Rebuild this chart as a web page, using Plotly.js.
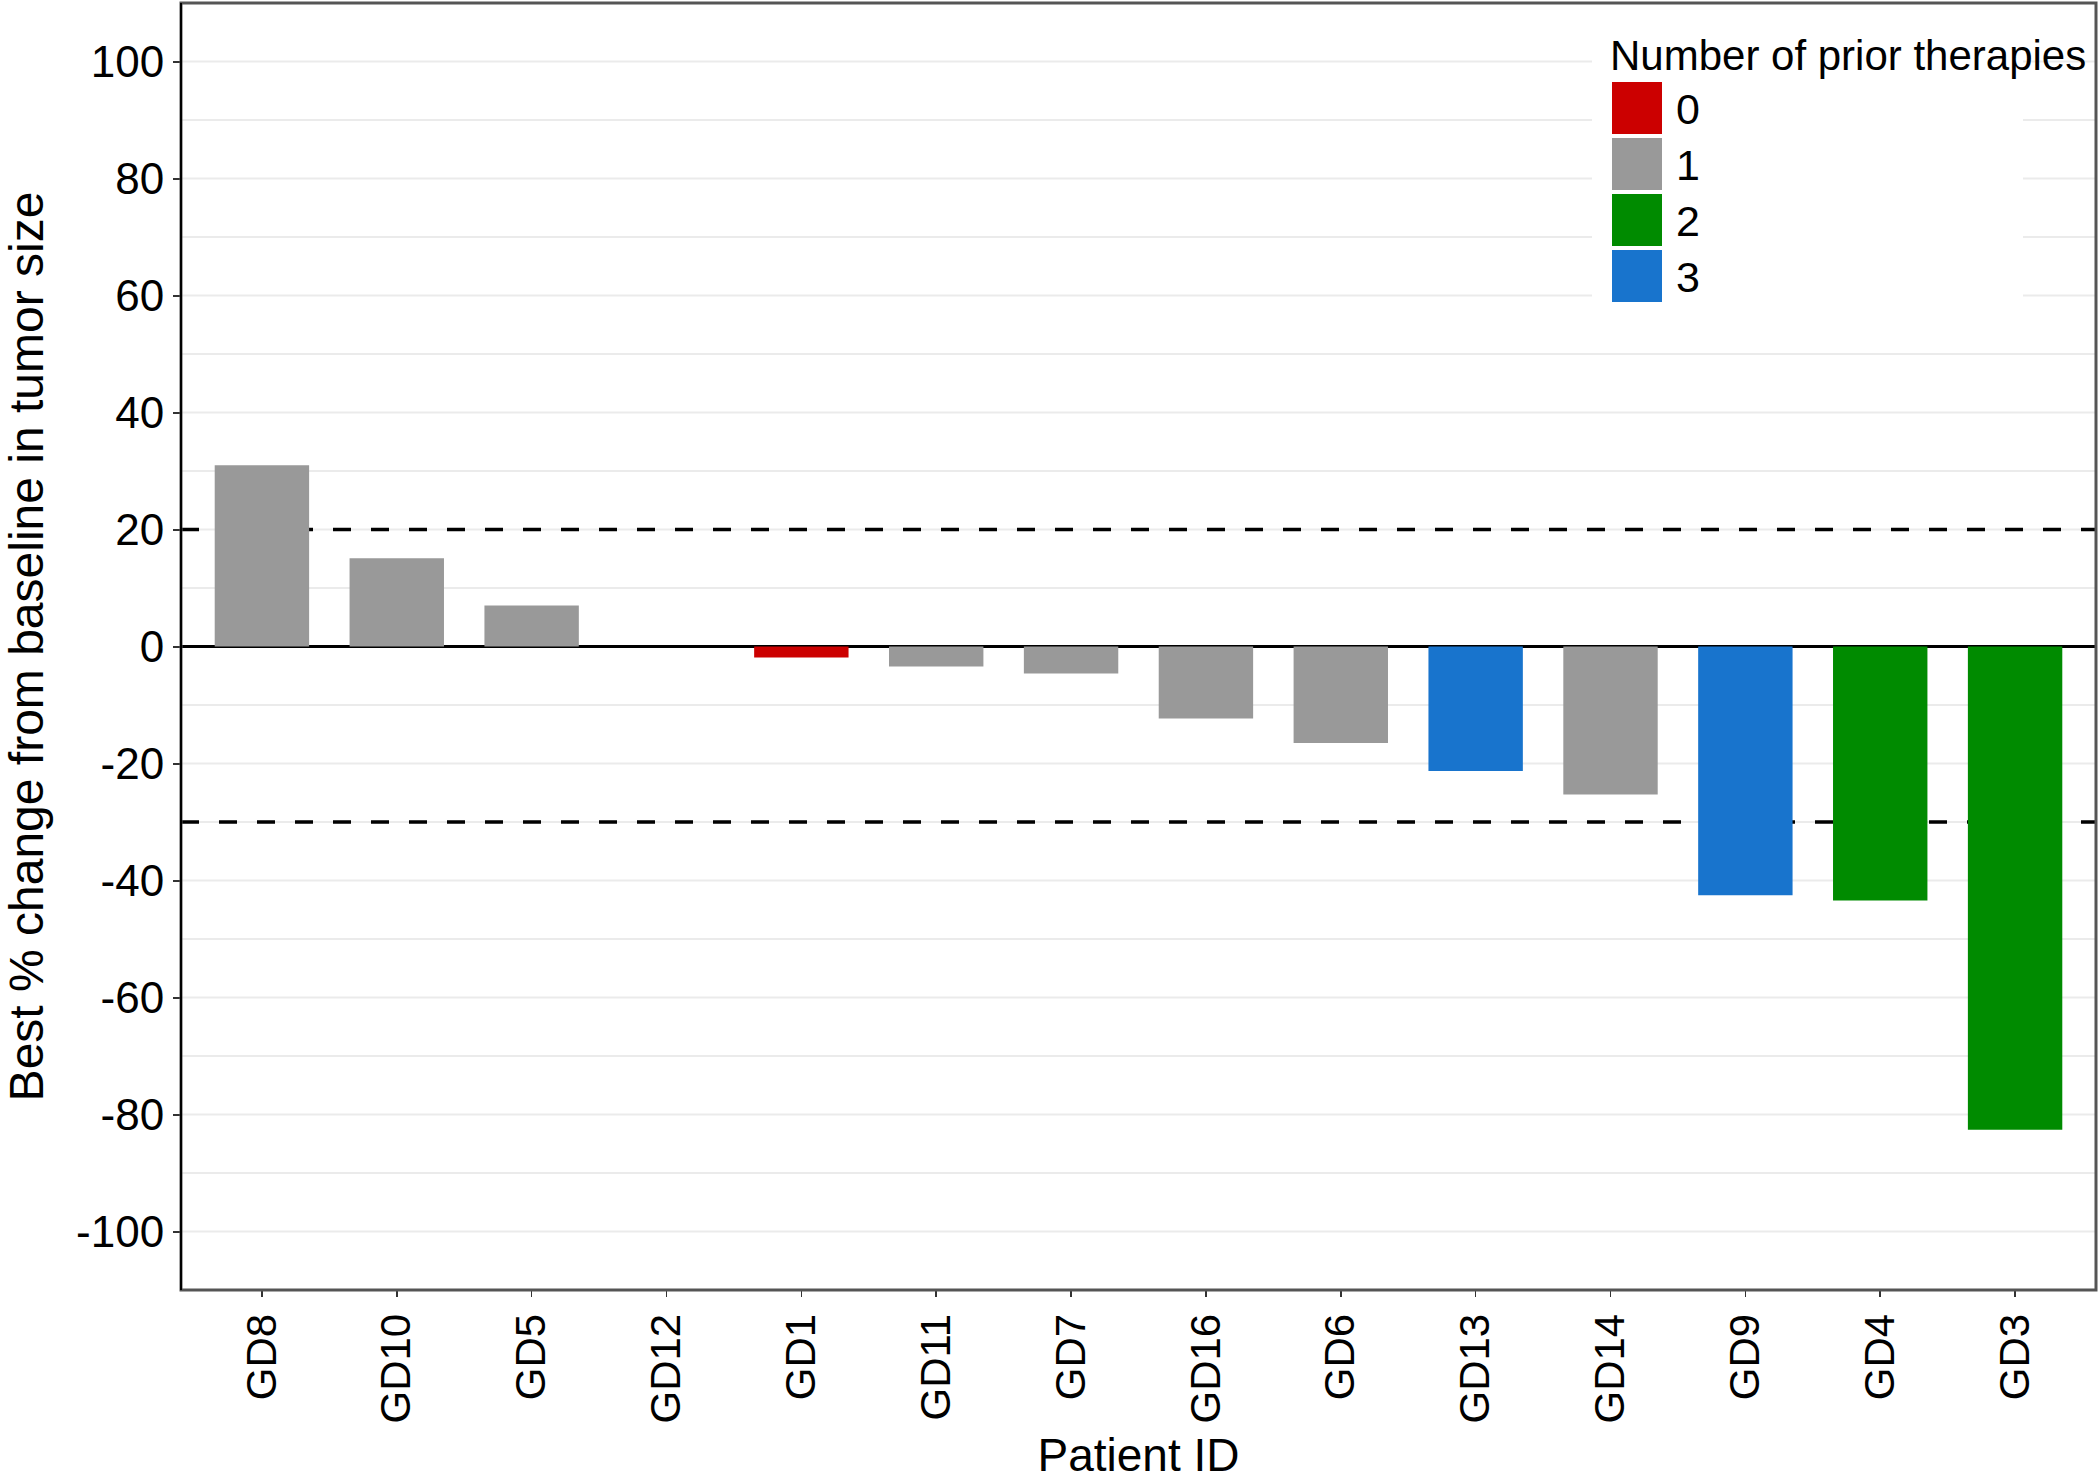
<!DOCTYPE html>
<html>
<head>
<meta charset="utf-8">
<script src="https://cdn.plot.ly/plotly-3.0.1.min.js"></script>
<style>
  html, body { margin: 0; padding: 0; background: #ffffff; }
  #chart { width: 2100px; height: 1481px; }
</style>
</head>
<body>
<div id="chart"></div>
<script>
// ---- data ----
const patients = ['GD8','GD10','GD5','GD12','GD1','GD11','GD7','GD16','GD6','GD13','GD14','GD9','GD4','GD3'];
const bestChange = [31, 15.1, 7, 0, -1.9, -3.4, -4.6, -12.3, -16.5, -21.3, -25.3, -42.5, -43.4, -82.6];
const priorTherapies = ['1','1','1','1','0','1','1','1','1','3','1','3','2','2'];
const therapyLevels = ['0','1','2','3'];
const therapyColors = ['#CC0000','#999999','#008B00','#1874CD'];
const thresholds = [20, -30];
const yTickVals = [-100, -80, -60, -40, -20, 0, 20, 40, 60, 80, 100];
const yTickText = ['-100', '-80', '-60', '-40', '-20', '0', '20', '40', '60', '80', '100'];
const gridVals = [-100, -90, -80, -70, -60, -50, -40, -30, -20, -10, 10, 20, 30, 40, 50, 60, 70, 80, 90, 100];
const legendTitle = 'Number of prior therapies';
const xTitle = 'Patient ID';
const yTitle = 'Best % change from baseline in tumor size';

// ---- geometry (pixels) ----
const FIG_W = 2100, FIG_H = 1481;
const M = {l: 181, r: 4, t: 3, b: 191};
const PW = FIG_W - M.l - M.r, PH = FIG_H - M.t - M.b;
const px = x => (x - M.l) / PW;
const py = y => 1 - (y - M.t) / PH;
const FONT = 'Liberation Sans, Arial, Helvetica, sans-serif';

// ---- traces ----
const traces = therapyLevels.map((lvl, k) => {
  const xs = [], ys = [];
  patients.forEach((p, i) => {
    if (priorTherapies[i] === lvl) { xs.push(p); ys.push(bestChange[i]); }
  });
  return {
    type: 'bar', name: lvl, x: xs, y: ys, width: 0.7,
    marker: {color: therapyColors[k], line: {width: 0}},
    showlegend: false, hoverinfo: 'x+y'
  };
});

// ---- shapes ----
const shapes = [];
// grid lines (drawn as shapes so that the dashed thresholds sit on top of them)
gridVals.forEach(v => shapes.push({
  type: 'line', xref: 'paper', yref: 'y', x0: 0, x1: 1, y0: v, y1: v,
  line: {color: '#ebebeb', width: 2}, layer: 'below'
}));
// legend background (covers grid lines)
shapes.push({
  type: 'rect', xref: 'paper', yref: 'paper',
  x0: px(1592), x1: px(2023), y0: py(316), y1: py(18),
  fillcolor: '#ffffff', line: {width: 0}, layer: 'below'
});
thresholds.forEach(v => shapes.push({
  type: 'line', xref: 'paper', yref: 'y', x0: 0, x1: 1, y0: v, y1: v,
  line: {color: '#000000', width: 3.5, dash: '18px,20px'}, layer: 'below'
}));
// legend keys
const annotations = [];
therapyLevels.forEach((lvl, k) => {
  const top = 82 + k * 56, bot = top + 52;
  shapes.push({
    type: 'rect', xref: 'paper', yref: 'paper',
    x0: px(1612), x1: px(1662), y0: py(bot), y1: py(top),
    fillcolor: therapyColors[k], line: {width: 0}, layer: 'above'
  });
  annotations.push({
    xref: 'paper', yref: 'paper', x: px(1674), y: py(top + 27),
    xanchor: 'left', yanchor: 'middle', showarrow: false,
    text: lvl, font: {family: FONT, size: 43, color: '#000000'}
  });
});
annotations.push({
  xref: 'paper', yref: 'paper', x: px(1608), y: py(56),
  xanchor: 'left', yanchor: 'middle', showarrow: false,
  text: legendTitle, font: {family: FONT, size: 42, color: '#000000'}
});
// panel border
shapes.push({
  type: 'rect', xref: 'paper', yref: 'paper', x0: 0, x1: 1, y0: 0, y1: 1,
  line: {color: '#555555', width: 3}, fillcolor: 'rgba(0,0,0,0)', layer: 'above'
});
shapes.push({
  type: 'line', xref: 'paper', yref: 'paper', x0: 0, x1: 0, y0: 0, y1: 1,
  line: {color: '#000000', width: 2}, layer: 'above'
});

const layout = {
  width: FIG_W, height: FIG_H,
  margin: M,
  paper_bgcolor: '#ffffff', plot_bgcolor: 'rgba(0,0,0,0)',
  barmode: 'overlay',
  font: {family: FONT, color: '#000000'},
  xaxis: {
    type: 'category', categoryorder: 'array', categoryarray: patients,
    range: [-0.6, patients.length - 0.4],
    tickangle: -90, tickfont: {family: FONT, size: 42, color: '#000000'},
    ticks: 'outside', ticklen: 6, tickwidth: 1.5, tickcolor: '#333333',
    showgrid: false, zeroline: false, showline: false,
    title: {text: xTitle, font: {family: FONT, size: 46, color: '#000000'}, standoff: 40},
    automargin: false
  },
  yaxis: {
    range: [-110, 110], tickvals: yTickVals, ticktext: yTickText,
    tickfont: {family: FONT, size: 44, color: '#000000'},
    ticks: 'outside', ticklen: 7, tickwidth: 2, tickcolor: '#333333',
    showgrid: false,
    zeroline: true, zerolinecolor: '#000000', zerolinewidth: 3,
    showline: false,
    title: {text: '\u00a0\u00a0\u00a0\u00a0' + yTitle, font: {family: FONT, size: 48, color: '#000000'}, standoff: 26},
    automargin: false
  },
  shapes: shapes,
  annotations: annotations
};

Plotly.newPlot('chart', traces, layout, {displayModeBar: false, staticPlot: true});
</script>
</body>
</html>
